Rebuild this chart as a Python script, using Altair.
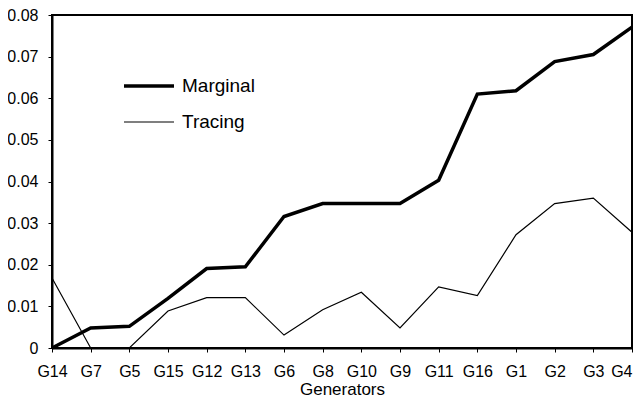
import altair as alt
import pandas as pd

generators = ["G14", "G7", "G5", "G15", "G12", "G13", "G6", "G8", "G10", "G9",
              "G11", "G16", "G1", "G2", "G3", "G4"]
marginal = [0.0, 0.0048, 0.0052, 0.0119, 0.0191, 0.0195, 0.0316, 0.0347, 0.0347,
            0.0347, 0.0403, 0.0610, 0.0618, 0.0688, 0.0705, 0.0771]
tracing = [0.0168, 0.0, 0.0, 0.0089, 0.0121, 0.0121, 0.0031, 0.0092, 0.0134,
           0.0048, 0.0147, 0.0126, 0.0272, 0.0347, 0.0360, 0.0278]
series = ["Marginal", "Tracing"]

rows = []
for i, g in enumerate(generators):
    rows.append({"Generator": g, "Series": series[0], "Value": marginal[i], "order": i})
    rows.append({"Generator": g, "Series": series[1], "Value": tracing[i], "order": i})
df = pd.DataFrame(rows)

FONT = "Liberation Sans"
last_label = generators[-1]

chart = alt.Chart(df).mark_line(color="black").encode(
    x=alt.X("Generator:N", sort=generators,
            scale=alt.Scale(type="point", padding=0),
            axis=alt.Axis(title="Generators", labelAngle=0, labelPadding=11,
                          labelAlign={"condition": {"test": f"datum.label == '{last_label}'",
                                                    "value": "right"},
                                      "value": "center"},
                          tickSize=4, titlePadding=2, titleFontSize=17)),
    y=alt.Y("Value:Q", scale=alt.Scale(domain=[0, 0.08], nice=False),
            axis=alt.Axis(title=None, values=[0, 0.01, 0.02, 0.03, 0.04, 0.05, 0.06, 0.07, 0.08],
                          labelExpr="datum.value == 0 ? '0' : format(datum.value, '.2f')",
                          tickSize=4, labelPadding=10)),
    strokeWidth=alt.StrokeWidth("Series:N", sort=series,
                                scale=alt.Scale(domain=series, range=[3.5, 1.2]),
                                legend=alt.Legend(title=None, orient="none",
                                                  legendX=70, legendY=44,
                                                  symbolType="stroke", symbolSize=2500,
                                                  symbolStrokeColor="black",
                                                  labelFontSize=19, labelFont=FONT,
                                                  labelColor="black", labelOffset=6,
                                                  rowPadding=-14)),
    order="order:Q",
).properties(
    width=580, height=333,
    autosize=alt.AutoSizeParams(type="none"),
    padding={"left": 44, "top": 7, "right": 1, "bottom": 51},
).configure_view(
    stroke="black", strokeWidth=2
).configure_axis(
    grid=False, domainColor="black", domainWidth=2, tickColor="black",
    tickWidth=1, labelFont=FONT, labelFontSize=16, labelColor="black",
    titleFont=FONT, titleFontWeight="normal", titleColor="black"
)

chart.save("out.html", embed_options={"renderer": "svg", "actions": False})
